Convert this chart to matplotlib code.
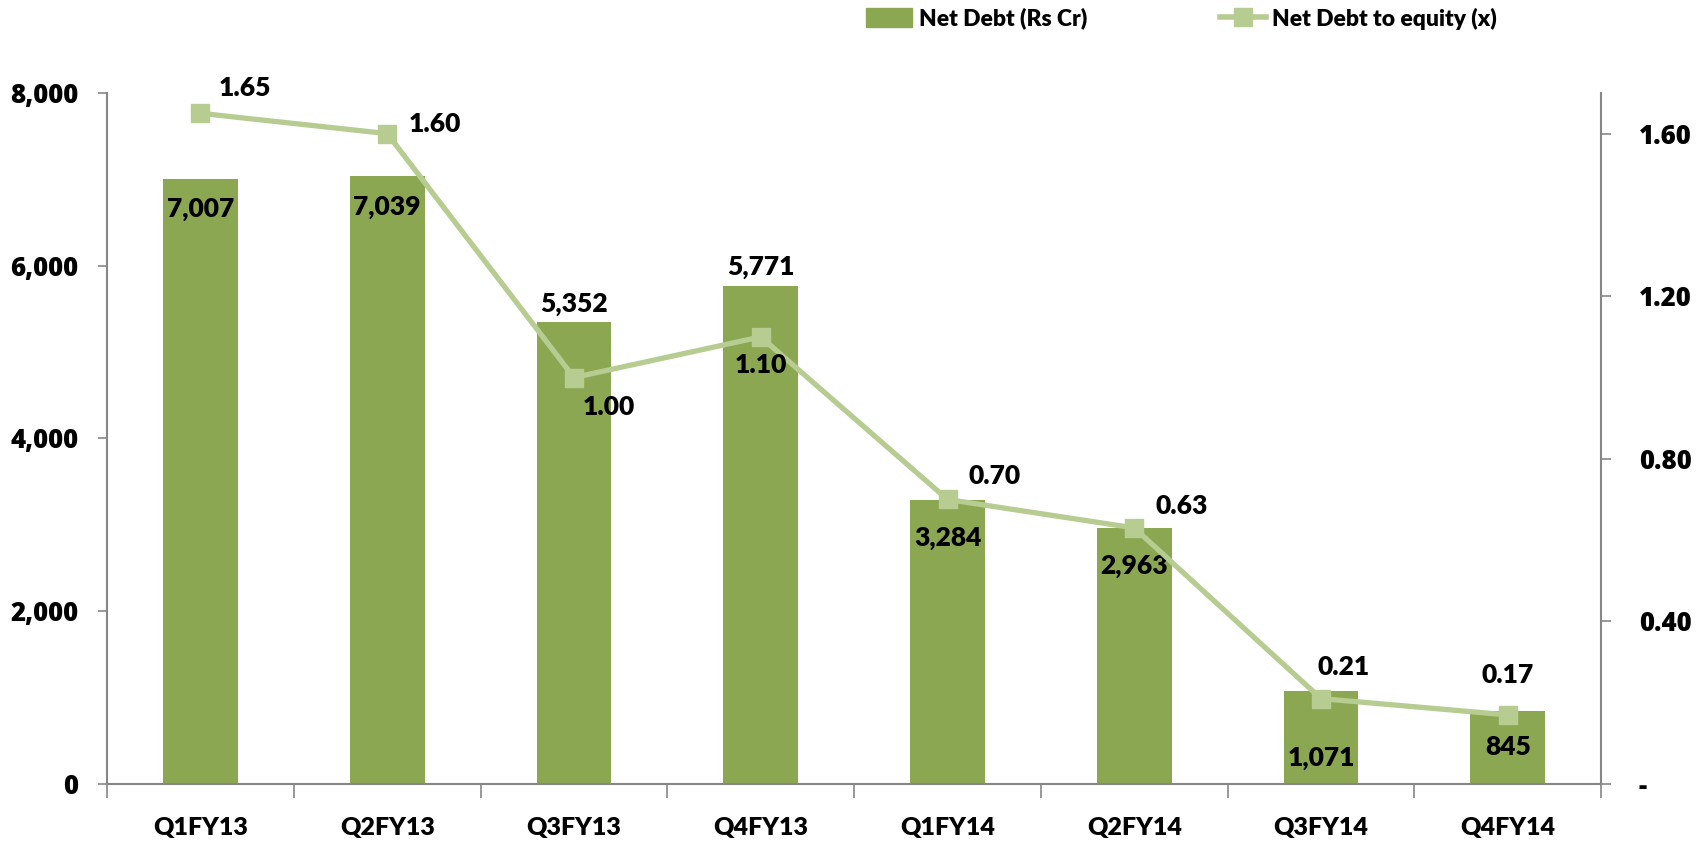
import matplotlib
matplotlib.use("Agg")
import matplotlib.pyplot as plt
from matplotlib.ticker import FixedLocator, FuncFormatter
from matplotlib.lines import Line2D
from matplotlib.patches import Patch
import numpy as np

categories = ["Q1FY13", "Q2FY13", "Q3FY13", "Q4FY13", "Q1FY14", "Q2FY14", "Q3FY14", "Q4FY14"]
net_debt = [7007, 7039, 5352, 5771, 3284, 2963, 1071, 845]
net_debt_equity = [1.65, 1.60, 1.00, 1.10, 0.70, 0.63, 0.21, 0.17]
left_ticks = [0, 2000, 4000, 6000, 8000]
right_ticks = [0, 0.4, 0.8, 1.2, 1.6]

bar_color = "#8BA752"
line_color = "#B6CC91"
spine_color = "#868686"
label_font = "Lato"
label_weight = "heavy"
tick_font = "Open Sans"
tick_weight = 800

fig = plt.figure(figsize=(17.05, 8.43), dpi=100)
ax = fig.add_axes([0.0628, 0.070, 0.8763, 0.8197])
x = np.arange(len(categories))

ax.bar(x, net_debt, width=0.40, color=bar_color, zorder=2)
ax.set_xlim(-0.5, len(categories) - 0.5)
ax.set_ylim(0, 8000)
ax.yaxis.set_major_locator(FixedLocator(left_ticks))
ax.yaxis.set_major_formatter(FuncFormatter(lambda v, p: f"{int(v):,}"))
for lab in ax.get_yticklabels():
    lab.set_fontfamily(tick_font)
    lab.set_fontweight(tick_weight)
    lab.set_fontsize(18.5)
ax.tick_params(axis="y", direction="out", length=6.5, width=1.2, color=spine_color, pad=14)

ax.set_xticks(x)
ax.set_xticklabels(categories, fontfamily=label_font, fontweight=label_weight, fontsize=18)
ax.tick_params(axis="x", which="major", length=0, pad=24)
ax.set_xticks(np.arange(-0.5, len(categories) + 0.5, 1.0), minor=True)
ax.tick_params(axis="x", which="minor", direction="out", length=10, width=1.2, color=spine_color)

for s in ["top", "right"]:
    ax.spines[s].set_visible(False)
for s in ["left", "bottom"]:
    ax.spines[s].set_color(spine_color)
    ax.spines[s].set_linewidth(1.5)

ax2 = ax.twinx()
ax2.set_ylim(0, 1.70)
ax2.yaxis.set_major_locator(FixedLocator(right_ticks))
ax2.yaxis.set_major_formatter(FuncFormatter(lambda v, p: "-" if v == 0 else f"{v:.2f}"))
for lab in ax2.get_yticklabels():
    lab.set_fontfamily(tick_font)
    lab.set_fontweight(tick_weight)
    lab.set_fontsize(18.5)
ax2.tick_params(axis="y", direction="out", length=7, width=1.2, color=spine_color, pad=20)
for s in ["top", "left", "bottom"]:
    ax2.spines[s].set_visible(False)
ax2.spines["right"].set_color(spine_color)
ax2.spines["right"].set_linewidth(1.5)

ax2.plot(x, net_debt_equity, color=line_color, linewidth=3.8, marker="s",
         markersize=13, markerfacecolor=line_color, markeredgecolor=line_color, zorder=3)

# bar labels: offsets in points (inside below top, or above)
bar_offsets = [-22, -22, 13, 13, -27, -27, -48, -26]
for xi, v, off in zip(x, net_debt, bar_offsets):
    ax.annotate(f"{v:,}", (xi, v), xytext=(0, off), textcoords="offset points",
                ha="center", va="center", fontfamily=label_font, fontweight=label_weight,
                fontsize=19, zorder=5)

line_offsets = [(32, 18), (34, 7), (25, -21), (0, -20), (34, 17), (34, 16), (16, 23), (0, 29)]
for xi, v, (dx, dy) in zip(x, net_debt_equity, line_offsets):
    ax2.annotate(f"{v:.2f}", (xi, v), xytext=(dx, dy), textcoords="offset points",
                 ha="center", va="center", fontfamily=label_font, fontweight=label_weight,
                 fontsize=19, zorder=5)

handles = [Patch(facecolor=bar_color, edgecolor=bar_color),
           Line2D([0], [0], color=line_color, linewidth=4, marker="s", markersize=13)]
leg = fig.legend(handles, ["Net Debt (Rs Cr)", "Net Debt to equity (x)"], ncol=2,
                 loc="center", bbox_to_anchor=(0.693, 0.978), frameon=False,
                 prop={"family": label_font, "weight": label_weight, "size": 16.5},
                 columnspacing=5.8, handlelength=2.0, handletextpad=0.3, handleheight=0.9)

fig.savefig("out.png", dpi=100)
